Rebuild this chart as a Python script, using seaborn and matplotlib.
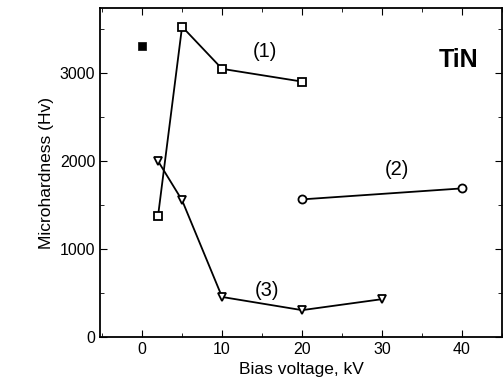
import matplotlib
matplotlib.use("Agg")
import matplotlib.pyplot as plt
import seaborn as sns
from matplotlib.ticker import MultipleLocator

sns.set_style("ticks")
plt.rcParams['font.family'] = ['Liberation Sans', 'DejaVu Sans']
plt.rcParams['text.color'] = 'black'
plt.rcParams['axes.labelcolor'] = 'black'
plt.rcParams['xtick.color'] = 'black'
plt.rcParams['ytick.color'] = 'black'

s1_x = [2, 5, 10, 20]
s1_y = [1380, 3530, 3050, 2905]
s2_x = [20, 40]
s2_y = [1565, 1690]
s3_x = [2, 5, 10, 20, 30]
s3_y = [2000, 1555, 455, 305, 430]
ref_x = [0]
ref_y = [3315]

fig = plt.figure(figsize=(5.03, 3.9), dpi=100)
ax = fig.add_axes([0.199, 0.136, 0.799, 0.843])

common = dict(color='black', linewidth=1.3, markersize=5.8, markerfacecolor='white',
              markeredgecolor='black', markeredgewidth=1.3, sort=False, ax=ax)
sns.lineplot(x=s1_x, y=s1_y, marker='s', **common)
sns.lineplot(x=s2_x, y=s2_y, marker='o', **common)
sns.lineplot(x=s3_x, y=s3_y, marker='v', **common)
sns.scatterplot(x=ref_x, y=ref_y, marker='s', color='black', s=36, edgecolor='black', ax=ax)

ax.text(15.4, 3250, "(1)", fontsize=14.5, ha='center', va='center')
ax.text(31.9, 1900, "(2)", fontsize=14.5, ha='center', va='center')
ax.text(15.6, 530, "(3)", fontsize=14.5, ha='center', va='center')
ax.text(39.6, 3150, "TiN", fontsize=18, fontweight='bold', ha='center', va='center')

ax.set_xlim(-5.25, 45)
ax.set_ylim(0, 3740)
ax.xaxis.set_major_locator(MultipleLocator(10))
ax.xaxis.set_minor_locator(MultipleLocator(5))
ax.yaxis.set_major_locator(MultipleLocator(1000))
ax.yaxis.set_minor_locator(MultipleLocator(500))
ax.tick_params(which='both', direction='in', top=True, right=True, labelsize=11.5)
ax.tick_params(which='major', length=5)
ax.tick_params(which='minor', length=3)
for sp in ax.spines.values():
    sp.set_linewidth(1.3)
    sp.set_color('black')

ax.set_xlabel("Bias voltage, kV", fontsize=12.5)
ax.set_ylabel("Microhardness (Hv)", fontsize=12.5)

fig.savefig("out.png", dpi=100)
